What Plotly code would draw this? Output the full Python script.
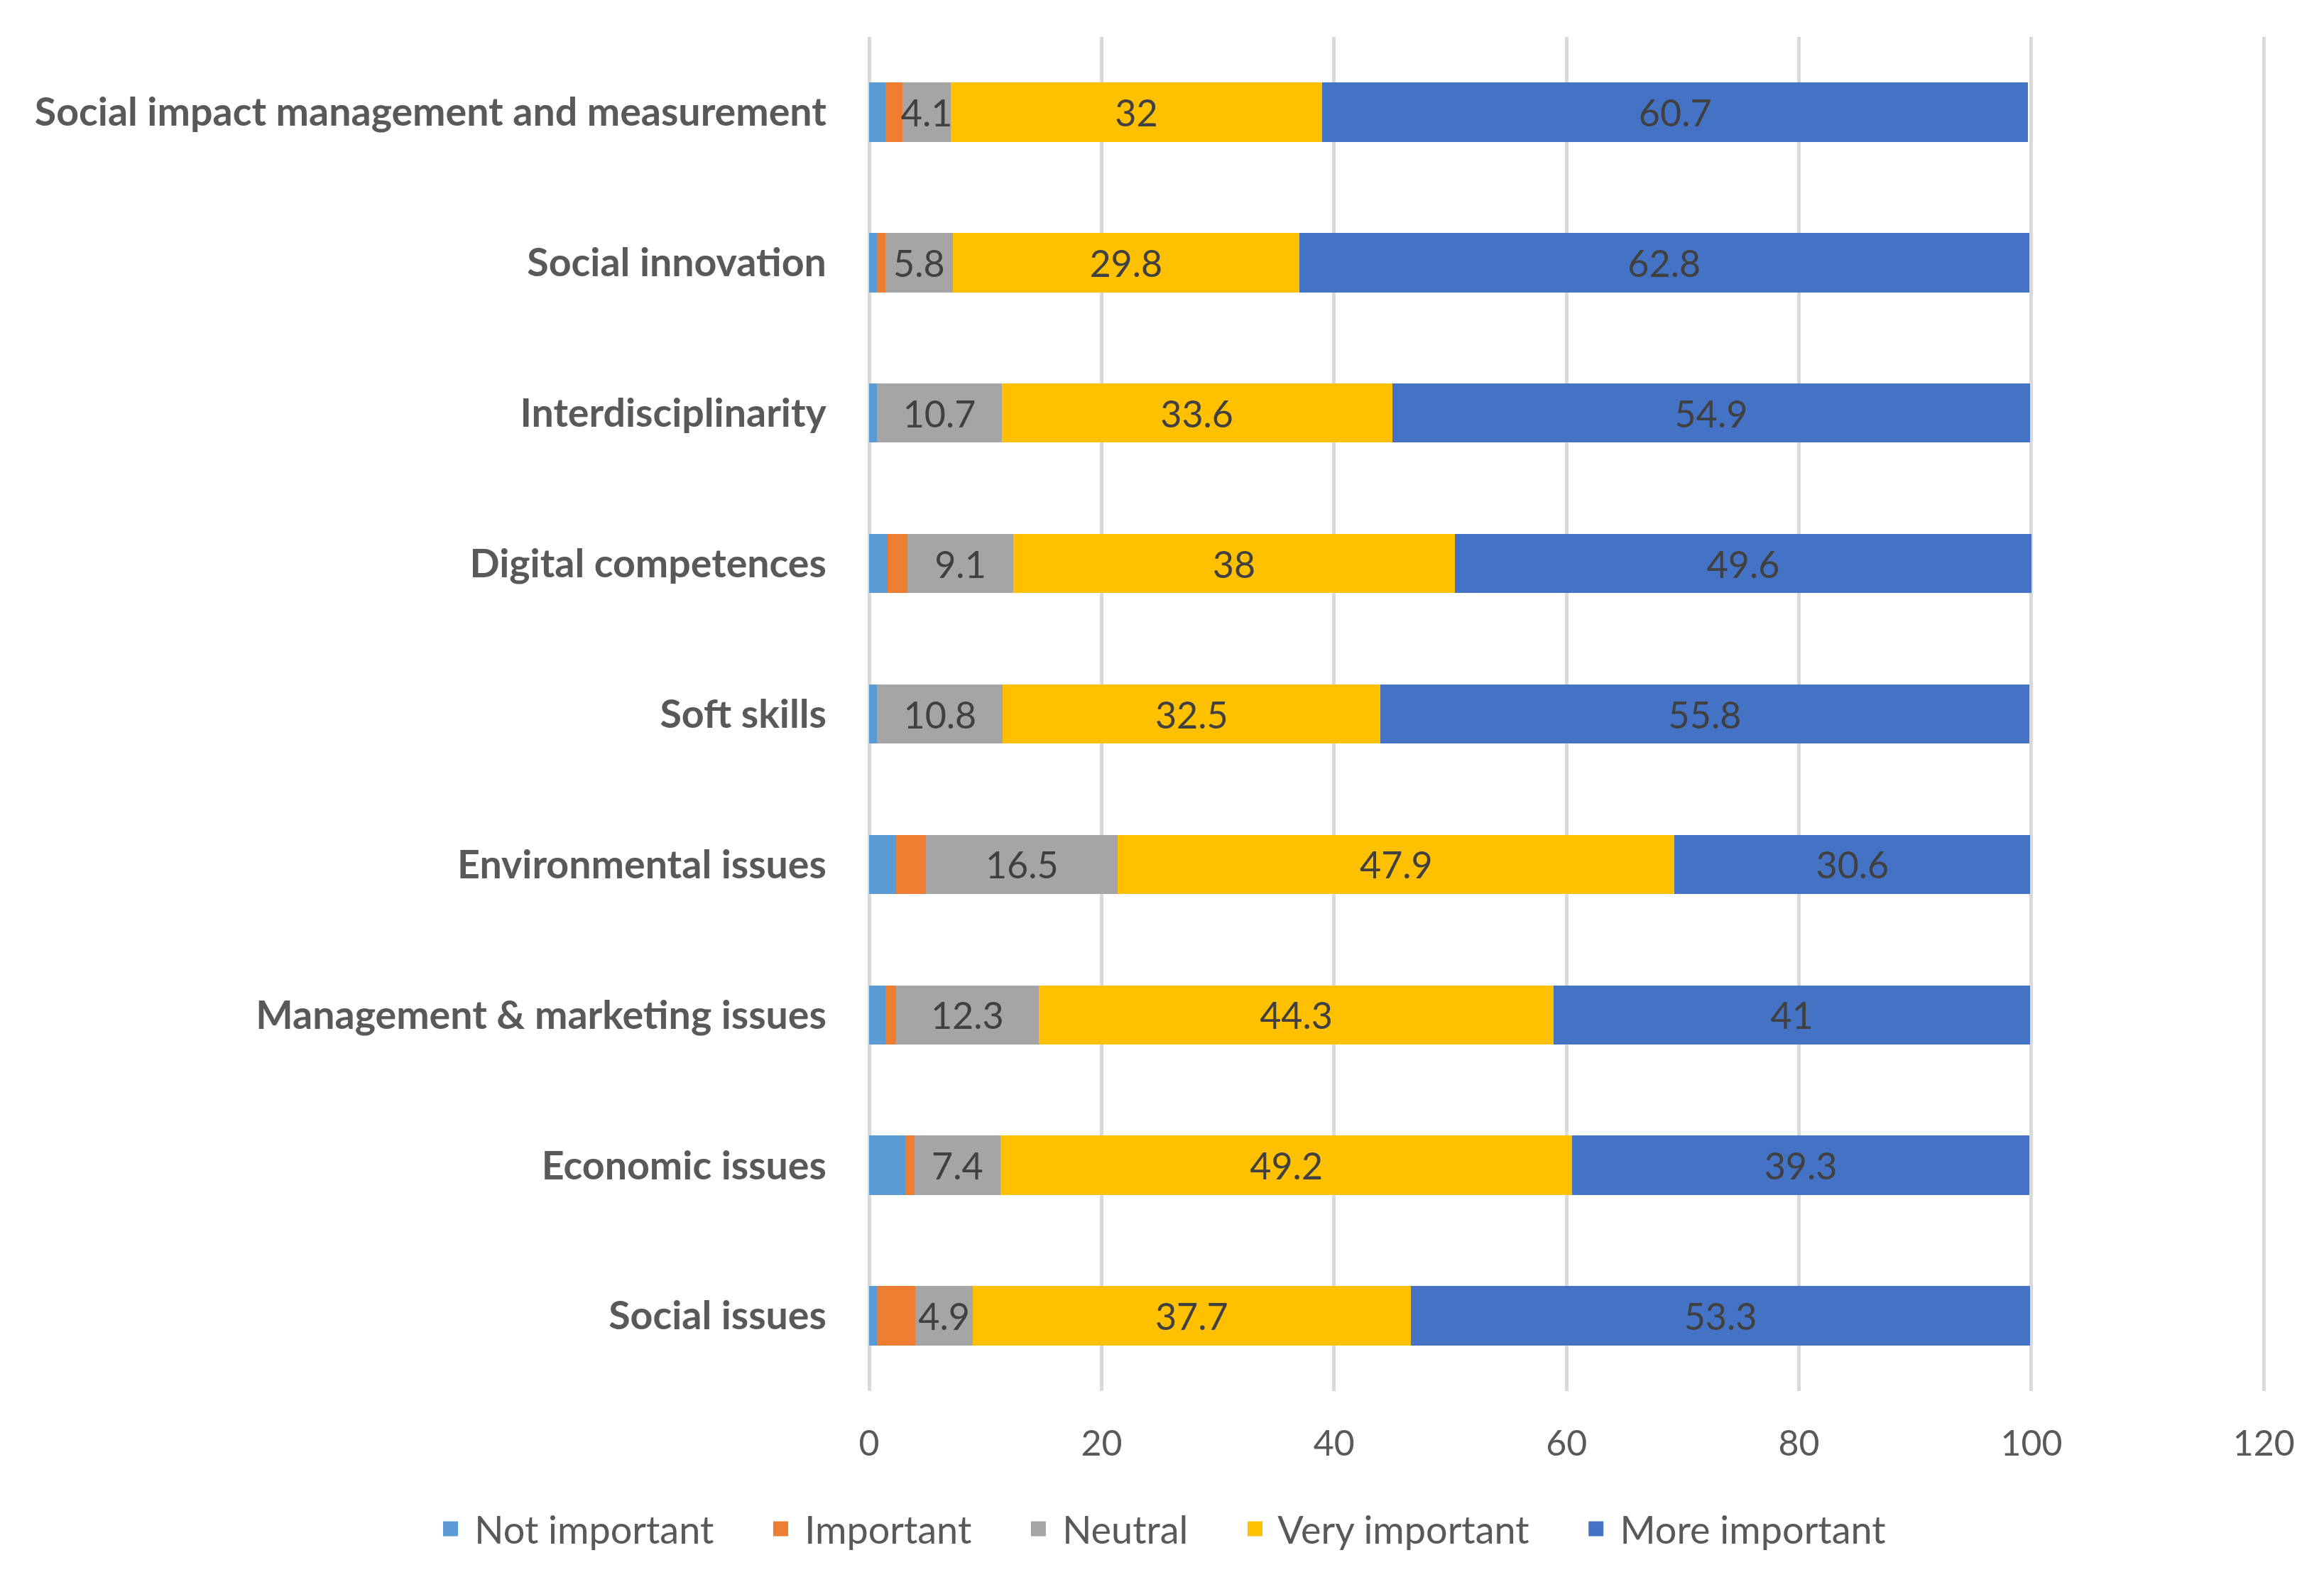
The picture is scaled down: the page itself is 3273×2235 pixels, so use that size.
import plotly.graph_objects as go

# categories, top to bottom as in the chart
categories = [
    "Social impact management and measurement",
    "Social innovation",
    "Interdisciplinarity",
    "Digital competences",
    "Soft skills",
    "Environmental issues",
    "Management & marketing issues",
    "Economic issues",
    "Social issues",
]

# percentages per answer
not_important = [1.4, 0.7, 0.7, 1.6, 0.7, 2.3, 1.4, 3.1, 0.7]
important = [1.5, 0.7, 0, 1.7, 0, 2.6, 0.9, 0.8, 3.3]
neutral = [4.1, 5.8, 10.7, 9.1, 10.8, 16.5, 12.3, 7.4, 4.9]
very_important = [32, 29.8, 33.6, 38, 32.5, 47.9, 44.3, 49.2, 37.7]
more_important = [60.7, 62.8, 54.9, 49.6, 55.8, 30.6, 41, 39.3, 53.3]

x_ticks = [0, 20, 40, 60, 80, 100, 120]

series = [
    ("Not important", not_important, "#5B9BD5", False),
    ("Important", important, "#ED7D31", False),
    ("Neutral", neutral, "#A5A5A5", True),
    ("Very important", very_important, "#FFC000", True),
    ("More important", more_important, "#4472C4", True),
]

NBSP = "\u00a0"

fig = go.Figure()
for name, vals, color, labelled in series:
    fig.add_trace(go.Bar(
        y=categories,
        x=vals,
        name=name,
        legendgroup=name,
        showlegend=False,
        orientation="h",
        marker=dict(color=color, line=dict(width=0)),
        text=[str(v) for v in vals] if labelled else None,
        textposition="inside" if labelled else "none",
        insidetextanchor="middle",
        textangle=0,
        textfont=dict(family="Lato", size=52, color="#404040"),
        hoverinfo="x+name",
    ))

# legend entries with square keys, like the Excel legend
for name, vals, color, labelled in series:
    fig.add_trace(go.Scatter(
        x=[None],
        y=[None],
        mode="markers",
        name=NBSP + name + NBSP * 5,
        legendgroup=name,
        marker=dict(symbol="square", size=32, color=color,
                    line=dict(color=color, width=8)),
        hoverinfo="skip",
    ))

fig.update_layout(
    barmode="stack",
    bargap=0.606,
    width=3273,
    height=2235,
    paper_bgcolor="white",
    plot_bgcolor="white",
    margin=dict(l=1216, r=91, t=44, b=284),
    font=dict(family="Lato", color="#595959"),
    uniformtext=dict(mode="show", minsize=52),
    legend=dict(
        orientation="h",
        x=-0.31,
        xanchor="left",
        y=-0.102,
        yanchor="middle",
        font=dict(family="Lato", size=54, color="#595959"),
        itemwidth=30,
        traceorder="normal",
    ),
)

fig.update_xaxes(
    range=[0, 120.1],
    tickvals=x_ticks,
    showgrid=True,
    gridcolor="#D9D9D9",
    gridwidth=5,
    zeroline=True,
    zerolinecolor="#D9D9D9",
    zerolinewidth=5,
    showline=False,
    ticks="outside",
    ticklen=30,
    tickcolor="rgba(0,0,0,0)",
    tickfont=dict(family="Lato", size=50, color="#595959"),
)

fig.update_yaxes(
    autorange="reversed",
    showgrid=False,
    ticks="outside",
    ticklen=48,
    tickcolor="rgba(0,0,0,0)",
    tickfont=dict(family="Lato", size=55.5, color="#595959", weight="bold"),
)

fig.write_html("out.html")
